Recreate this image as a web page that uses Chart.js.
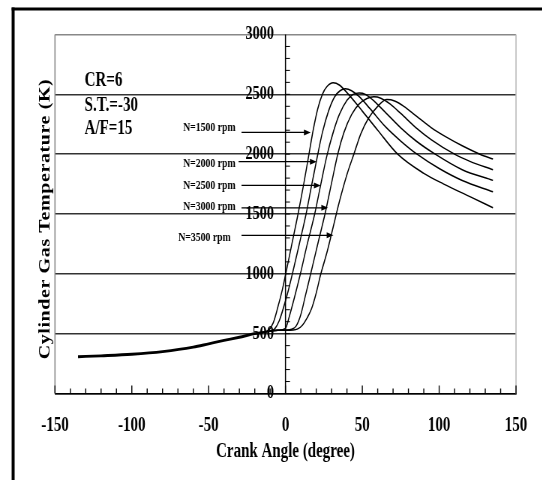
<!DOCTYPE html>
<html><head><meta charset="utf-8">
<script src="https://cdn.jsdelivr.net/npm/chart.js@4.4.0/dist/chart.umd.min.js"></script>
<style>
html,body{margin:0;padding:0;background:#fff;overflow:hidden;}
#wrap{position:absolute;left:0;top:0;width:723px;height:480px;transform:scaleX(0.75);transform-origin:0 0;}
</style></head><body>
<div id="wrap"><canvas id="c" width="723" height="480"></canvas></div>
<script>
// ---- data (crank angle in degrees, temperature in K) ----
const xTickValues = [-150, -100, -50, 0, 50, 100, 150];
const yTickValues = [0, 500, 1000, 1500, 2000, 2500, 3000];

const compressionAngle = [-135, -120, -100, -80, -60, -50, -40, -30, -20, -15];
const compressionTemp  = [307, 315, 328, 350, 387, 415, 443, 470, 500, 510];

const angle1500 = [-15, -11, -8, -5, -2, 0, 4, 8, 12, 15, 18, 21, 24, 27, 31, 35, 41, 50, 60, 73, 90, 103, 120, 135];
const temp1500  = [510, 528, 590, 720, 870, 990, 1240, 1490, 1760, 1980, 2200, 2380, 2500, 2565, 2596, 2578, 2500, 2360, 2200, 2000, 1840, 1750, 1645, 1552];

const angle2000 = [-15, -10, -7, -4, -1, 2, 4.5, 9, 13.4, 17, 20.4, 24, 28, 32, 35.5, 39, 43, 48, 55, 65, 75, 85.6, 100, 115, 135];
const temp2000  = [510, 522, 540, 610, 730, 870, 1000, 1250, 1500, 1740, 1960, 2180, 2360, 2480, 2530, 2546, 2530, 2480, 2380, 2230, 2110, 2000, 1880, 1780, 1686];

const angle2500 = [-15, -10, -5, 0, 2.4, 6, 9.7, 14, 19, 23, 27, 31, 35, 40, 44, 48, 52, 58, 65, 75, 85, 97.4, 115, 135];
const temp2500  = [510, 522, 528, 545, 640, 810, 1000, 1240, 1500, 1750, 1990, 2180, 2330, 2450, 2500, 2512, 2500, 2440, 2350, 2220, 2110, 2000, 1870, 1781];

const angle3000 = [-15, -10, -5, 0, 4, 7, 10, 13, 16.4, 21, 25.7, 30, 34, 38, 43, 48, 53, 57.5, 62, 68, 75, 85, 95, 110, 120, 135];
const temp3000  = [510, 522, 528, 530, 537, 565, 660, 820, 1000, 1250, 1500, 1760, 2000, 2180, 2330, 2420, 2465, 2479, 2468, 2420, 2340, 2220, 2120, 2000, 1940, 1870];

const angle3500 = [-15, -10, -5, 0, 5, 8, 11, 14, 17, 20, 23, 27, 31, 35, 40, 44.5, 49, 54, 60, 66, 71, 77, 85, 95, 105, 115, 126.5, 135];
const temp3500  = [510, 522, 528, 528, 530, 540, 570, 630, 710, 840, 1000, 1180, 1390, 1600, 1830, 2000, 2170, 2300, 2400, 2456, 2445, 2400, 2320, 2220, 2140, 2070, 2000, 1960];

const speedLabels = ['N=1500 rpm', 'N=2000 rpm', 'N=2500 rpm', 'N=3000 rpm', 'N=3500 rpm'];
const conditionLabels = ['CR=6', 'S.T.=-30', 'A/F=15'];

// ---- helpers ----
const pts = (a, t) => a.map((v, i) => ({x: v, y: t[i]}));
const FONT = "'Liberation Serif', 'Times New Roman', serif";

function series(label, a, t, w) {
  return {label, data: pts(a, t), borderColor: '#000', borderWidth: w, pointRadius: 0,
          showLine: true, fill: false, cubicInterpolationMode: 'monotone'};
}

// annotation placement (data coordinates)
const condPos = [[-130.7, 2568], [-130.7, 2363], [-130.7, 2171]];
const speedTextPos = [[-32.5, 2190], [-32.5, 1890], [-32.5, 1705], [-32.5, 1537], [-35.7, 1276]];
const arrowPos = [[-28.6, 16.4, 2182], [-30.5, 20.3, 1937], [-28.6, 22.9, 1739], [-28.6, 27.7, 1552], [-28.6, 31.2, 1322]];

const deco = {
  id: 'deco',
  beforeDatasetsDraw(chart) {
    const {ctx, chartArea: a, scales: {x, y}} = chart;
    ctx.save();
    ctx.lineCap = 'butt';
    // plot border left / right
    ctx.lineWidth = 1.6;
    ctx.strokeStyle = '#888';
    ctx.beginPath(); ctx.moveTo(a.left, a.top); ctx.lineTo(a.left, a.bottom); ctx.stroke();
    ctx.strokeStyle = '#bbb';
    ctx.beginPath(); ctx.moveTo(a.right, a.top); ctx.lineTo(a.right, a.bottom); ctx.stroke();
    // y axis line at x = 0
    const x0 = x.getPixelForValue(0);
    ctx.strokeStyle = '#000';
    ctx.lineWidth = 1.5;
    ctx.beginPath(); ctx.moveTo(x0, a.top); ctx.lineTo(x0, a.bottom); ctx.stroke();
    // x-axis inward ticks
    ctx.lineWidth = 1.4;
    for (let v = -150; v <= 150; v += 10) {
      const px = x.getPixelForValue(v);
      const len = (v % 50 === 0) ? 8 : 5;
      ctx.beginPath(); ctx.moveTo(px, a.bottom); ctx.lineTo(px, a.bottom - len); ctx.stroke();
    }
    // y-axis minor ticks (to the right of x=0)
    ctx.lineWidth = 1;
    for (let v = 100; v < 3000; v += 100) {
      const py = y.getPixelForValue(v);
      ctx.beginPath(); ctx.moveTo(x0, py); ctx.lineTo(x0 + 6, py); ctx.stroke();
    }
    ctx.restore();
  },
  afterDraw(chart) {
    const {ctx, scales: {x, y}} = chart;
    ctx.save();
    ctx.fillStyle = '#000';
    ctx.strokeStyle = '#000';
    // condition labels
    ctx.font = 'bold 20px ' + FONT;
    ctx.textAlign = 'left'; ctx.textBaseline = 'alphabetic';
    conditionLabels.forEach((s, i) => {
      ctx.fillText(s, x.getPixelForValue(condPos[i][0]), y.getPixelForValue(condPos[i][1]));
    });
    // speed labels
    ctx.font = 'bold 13px ' + FONT;
    ctx.textAlign = 'right';
    speedLabels.forEach((s, i) => {
      ctx.fillText(s, x.getPixelForValue(speedTextPos[i][0]), y.getPixelForValue(speedTextPos[i][1]));
    });
    // arrows
    ctx.lineWidth = 1.3;
    arrowPos.forEach(([a0, a1, t]) => {
      const x1 = x.getPixelForValue(a0), x2 = x.getPixelForValue(a1), py = y.getPixelForValue(t);
      ctx.beginPath(); ctx.moveTo(x1, py); ctx.lineTo(x2 - 6, py); ctx.stroke();
      ctx.beginPath(); ctx.moveTo(x2, py); ctx.lineTo(x2 - 9, py - 3); ctx.lineTo(x2 - 9, py + 3); ctx.closePath(); ctx.fill();
    });
    // y-axis title
    ctx.save();
    ctx.translate(61, 219);
    ctx.rotate(-Math.PI / 2);
    ctx.font = 'bold 20px ' + FONT;
    ctx.textAlign = 'center'; ctx.textBaseline = 'middle';
    try { ctx.letterSpacing = '0.6px'; } catch (e) {}
    ctx.fillText('Cylinder Gas Temperature (K)', 0, 0);
    ctx.restore();
    // outer frame
    ctx.fillStyle = '#000';
    ctx.fillRect(15.5, 7.5, 4, 480);
    ctx.fillRect(15.5, 7.5, 723, 3);
    ctx.restore();
  }
};

new Chart(document.getElementById('c'), {
  type: 'scatter',
  data: {
    datasets: [
      series('compression', compressionAngle, compressionTemp, 2.8),
      series(speedLabels[0], angle1500, temp1500, 1.5),
      series(speedLabels[1], angle2000, temp2000, 1.5),
      series(speedLabels[2], angle2500, temp2500, 1.5),
      series(speedLabels[3], angle3000, temp3000, 1.5),
      series(speedLabels[4], angle3500, temp3500, 1.5)
    ]
  },
  options: {
    responsive: false,
    animation: false,
    devicePixelRatio: 1,
    layout: {padding: {left: 73.3, right: 31, top: 34.5, bottom: 16.5}},
    plugins: {legend: {display: false}, tooltip: {enabled: false}},
    scales: {
      x: {
        type: 'linear', position: 'bottom', min: -150, max: 150,
        afterBuildTicks: s => { s.ticks = xTickValues.map(v => ({value: v})); },
        grid: {display: false, drawTicks: false},
        border: {display: true, color: '#000', width: 1.6},
        ticks: {color: '#000', font: {family: FONT, size: 20, weight: 'bold'}, padding: 20, maxRotation: 0, autoSkip: false},
        title: {display: true, text: 'Crank Angle (degree)', color: '#000',
                font: {family: FONT, size: 20, weight: 'bold'}, padding: {top: -18, bottom: 0}}
      },
      y: {
        type: 'linear', position: {x: -7.5}, min: 0, max: 3000,
        afterBuildTicks: s => { s.ticks = yTickValues.map(v => ({value: v})); },
        grid: {drawTicks: false, lineWidth: 1.4,
               color: c => (c.tick && c.tick.value === 3000) ? '#888' : '#333'},
        border: {display: false},
        ticks: {color: '#000', font: {family: FONT, size: 19, weight: 'bold'}, padding: 0, autoSkip: false,
                callback: v => String(v)}
      }
    }
  },
  plugins: [deco]
});
</script>
</body></html>
